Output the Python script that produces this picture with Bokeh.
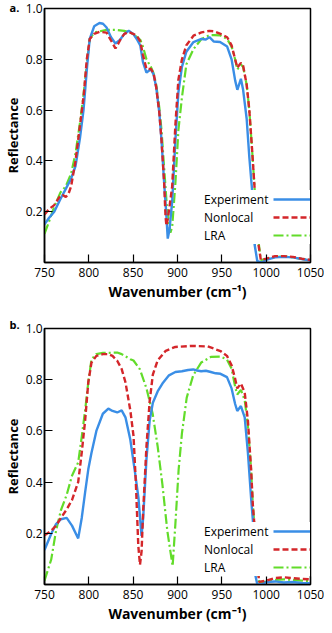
from bokeh.plotting import figure
from bokeh.layouts import column
from bokeh.models import Legend, LegendItem, FixedTicker, NumeralTickFormatter, Range1d
from bokeh.embed import file_html
from bokeh.resources import INLINE

# ---------------- data: panel a ----------------
a_exp_x = [750, 755, 761, 768, 774, 780, 785, 790, 794, 798, 801, 806, 812, 816, 820, 825, 830, 835,
           840, 845, 850, 854, 858, 861, 865, 870, 873, 876, 879.5, 882, 885, 887, 889, 891, 894,
           897.6, 901, 905, 910, 918, 927, 932, 936, 941, 948, 956, 961, 965, 967.5, 971.5, 974,
           978, 981, 984, 987, 990, 995, 1000, 1010, 1020, 1030, 1040, 1050]
a_exp_y = [0.15, 0.175, 0.20, 0.25, 0.29, 0.33, 0.38, 0.49, 0.60, 0.77, 0.88, 0.93, 0.943, 0.94, 0.925,
           0.887, 0.862, 0.876, 0.90, 0.912, 0.90, 0.88, 0.855, 0.79, 0.748, 0.761, 0.74, 0.69, 0.59,
           0.48, 0.31, 0.21, 0.094, 0.13, 0.24, 0.48, 0.67, 0.77, 0.83, 0.868, 0.88, 0.878, 0.887,
           0.87, 0.868, 0.85, 0.80, 0.717, 0.68, 0.723, 0.68, 0.566, 0.415, 0.29, 0.07, 0.005, 0.0,
           0.01, 0.02, 0.022, 0.02, 0.014, 0.008]

a_nl_x = [750, 755, 761, 768, 771, 774, 777, 780, 785, 790, 794, 797.7, 801, 806, 812, 820, 825, 830,
          833, 836, 840, 845, 850, 854, 858, 861, 865, 870, 873, 876, 879.5, 882, 885, 886.5, 887.5,
          889, 891, 894, 897.6, 901, 905, 910, 918, 927, 936, 941, 948.5, 956, 961, 965, 967.5,
          971.5, 974, 978, 981, 984, 987, 990, 994, 1000, 1010, 1020, 1030, 1040, 1050]
a_nl_y = [0.189, 0.21, 0.226, 0.264, 0.265, 0.258, 0.27, 0.30, 0.40, 0.54, 0.65, 0.80, 0.88, 0.90,
          0.908, 0.905, 0.874, 0.843, 0.86, 0.88, 0.90, 0.907, 0.90, 0.894, 0.87, 0.818, 0.762, 0.762,
          0.745, 0.69, 0.59, 0.48, 0.31, 0.18, 0.145, 0.17, 0.22, 0.30, 0.54, 0.72, 0.80, 0.855,
          0.893, 0.906, 0.912, 0.91, 0.90, 0.887, 0.855, 0.80, 0.767, 0.786, 0.775, 0.70, 0.60,
          0.45, 0.29, 0.10, 0.01, 0.015, 0.025, 0.025, 0.022, 0.015, 0.01]

a_lra_x = [750, 755, 761, 768, 774, 780, 785, 790, 794, 798, 801, 806, 812, 820, 830, 840, 845, 850,
           858, 861, 865, 870, 873, 876, 879.5, 882, 885, 888, 892, 894, 897.6, 901, 905, 910, 918,
           927, 936, 941, 948.5, 956, 961, 965, 967.5, 971.5, 974, 978, 981, 984, 987, 990, 994,
           1000, 1010, 1020, 1030, 1040, 1050]
a_lra_y = [0.113, 0.16, 0.22, 0.276, 0.30, 0.35, 0.43, 0.55, 0.66, 0.79, 0.88, 0.905, 0.91, 0.916,
           0.916, 0.912, 0.907, 0.90, 0.877, 0.85, 0.80, 0.77, 0.745, 0.70, 0.61, 0.52, 0.37, 0.22,
           0.117, 0.14, 0.31, 0.52, 0.65, 0.78, 0.84, 0.88, 0.895, 0.895, 0.894, 0.88, 0.85, 0.80,
           0.76, 0.78, 0.77, 0.70, 0.60, 0.45, 0.29, 0.12, 0.01, 0.012, 0.022, 0.024, 0.02, 0.014, 0.01]

# ---------------- data: panel b ----------------
b_exp_x = [750, 757.6, 763, 768.5, 775, 781, 788, 792, 795.8, 799.4, 803, 808.5, 815.8, 822, 826.7,
           832, 837, 841.3, 846.8, 852, 856, 859.4, 861.3, 865, 868.6, 872.2, 877.6, 883, 890.4,
           897.6, 905, 912, 917.7, 922, 926.7, 932, 937.6, 943, 948.5, 955.8, 961, 965, 967.4,
           971.5, 975.8, 979.4, 983, 985, 987, 990, 995, 1000, 1010, 1020, 1030, 1040, 1050]
b_exp_y = [0.135, 0.198, 0.236, 0.255, 0.26, 0.23, 0.18, 0.26, 0.36, 0.45, 0.515, 0.60, 0.667, 0.687,
           0.678, 0.672, 0.68, 0.653, 0.565, 0.44, 0.337, 0.19, 0.26, 0.49, 0.64, 0.71, 0.754, 0.785,
           0.817, 0.83, 0.833, 0.838, 0.84, 0.836, 0.833, 0.835, 0.83, 0.825, 0.823, 0.81, 0.766,
           0.705, 0.678, 0.697, 0.653, 0.515, 0.337, 0.25, 0.05, 0.0, 0.0, 0.01, 0.012, 0.008, 0.01,
           0.006, 0.005]

b_nl_x = [750, 757.6, 763, 768.5, 775, 781, 788, 792, 795.8, 799.4, 803, 808.5, 815.8, 822, 826.7,
          832, 837, 841.3, 846.8, 850.4, 853, 855.8, 857.7, 859.5, 861.3, 865, 868.6, 872.2, 877.6,
          886.7, 897.6, 915.8, 934, 948.5, 955.8, 961, 965, 967.4, 971.5, 975.8, 979.4, 983, 985,
          988.6, 992, 1000, 1010, 1020, 1030, 1040, 1050]
b_nl_y = [0.192, 0.21, 0.23, 0.26, 0.293, 0.33, 0.40, 0.515, 0.64, 0.79, 0.867, 0.893, 0.90, 0.90,
          0.893, 0.874, 0.842, 0.79, 0.68, 0.58, 0.40, 0.15, 0.077, 0.13, 0.29, 0.54, 0.716, 0.82,
          0.875, 0.913, 0.928, 0.932, 0.93, 0.912, 0.893, 0.856, 0.804, 0.766, 0.785, 0.75, 0.64,
          0.45, 0.31, 0.15, 0.01, 0.015, 0.025, 0.028, 0.025, 0.022, 0.02]

b_lra_x = [750, 757.6, 763, 768.5, 775, 781, 788, 792, 795.8, 799.4, 803, 808.5, 815.8, 822, 832,
           837, 846.8, 850.4, 857.7, 865, 872, 877.6, 883, 888.5, 894.5, 897.6, 901.3, 905, 910.4,
           917.7, 926.7, 937.6, 948.5, 955.8, 961, 965, 967.4, 971.5, 975.8, 979.4, 983, 985, 988.6,
           992, 1000, 1010, 1020, 1030, 1040, 1050]
b_lra_y = [0.015, 0.098, 0.21, 0.29, 0.35, 0.425, 0.477, 0.577, 0.68, 0.79, 0.88, 0.90, 0.905, 0.905,
           0.906, 0.90, 0.88, 0.875, 0.84, 0.766, 0.667, 0.54, 0.39, 0.21, 0.072, 0.236, 0.45, 0.59,
           0.73, 0.817, 0.867, 0.889, 0.89, 0.879, 0.843, 0.773, 0.742, 0.76, 0.72, 0.62, 0.45, 0.31,
           0.15, 0.01, 0.01, 0.018, 0.02, 0.018, 0.015, 0.012]

series_names = ["Experiment", "Nonlocal", "LRA"]
x_ticks = [750, 800, 850, 900, 950, 1000, 1050]
y_ticks = [0.2, 0.4, 0.6, 0.8, 1.0]
x_label = "Wavenumber (cm\u207b\u00b9)"
y_label = "Reflectance"

BLUE = "#3a8ee6"
RED = "#d4262a"
GREEN = "#62dc2a"
FONT = "Open Sans"

LEFT = 35
RIGHT = 14


def make_panel(tag, exp_x, exp_y, nl_x, nl_y, lra_x, lra_y, height, top, bottom, leg_y, tag_standoff):
    p = figure(width=324, height=height, output_backend="svg", toolbar_location=None,
               x_range=Range1d(750, 1050), y_range=Range1d(0, 1.0),
               min_border_left=LEFT, min_border_right=RIGHT, min_border_top=top,
               min_border_bottom=bottom, title=tag)
    p.title.align = "left"
    p.title.offset = -LEFT
    p.title.standoff = tag_standoff
    p.title.text_font = FONT
    p.title.text_font_size = "11px"
    p.title.text_font_style = "bold"
    p.title.text_color = "black"
    p.grid.visible = False
    p.outline_line_color = "black"
    p.outline_line_width = 1.5
    p.outline_line_alpha = 1.0

    r_lra = p.line(lra_x, lra_y, line_color=GREEN, line_width=2.2, line_dash="10 3 2 3")
    r_exp = p.line(exp_x, exp_y, line_color=BLUE, line_width=2.4)
    r_nl = p.line(nl_x, nl_y, line_color=RED, line_width=2.4, line_dash="6 3")

    for ax in (p.xaxis[0], p.yaxis[0]):
        ax.axis_line_color = "black"
        ax.axis_line_width = 1.5
        ax.major_tick_in = 8
        ax.major_tick_out = 0
        ax.minor_tick_in = 0
        ax.minor_tick_out = 0
        ax.major_tick_line_width = 1.2
        ax.minor_tick_line_color = None
        ax.major_label_text_font = FONT
        ax.major_label_text_font_size = "12px"
        ax.major_label_text_color = "black"
        ax.major_label_text_line_height = 1.0
        ax.axis_label_text_font = FONT
        ax.axis_label_text_font_style = "bold"
        ax.axis_label_text_color = "black"
        ax.axis_label_text_line_height = 1.0

    p.xaxis.ticker = FixedTicker(ticks=x_ticks)
    p.yaxis.ticker = FixedTicker(ticks=y_ticks)
    p.yaxis.formatter = NumeralTickFormatter(format="0.0")
    p.xaxis.axis_label = x_label
    p.yaxis.axis_label = y_label
    p.xaxis.axis_label_text_font_size = "14px"
    p.yaxis.axis_label_text_font_size = "13px"
    p.xaxis.major_label_standoff = 5
    p.yaxis.major_label_standoff = 2
    p.xaxis.axis_label_standoff = 2
    p.yaxis.axis_label_standoff = 1

    renderers = [r_exp, r_nl, r_lra]
    common = dict(padding=2, spacing=0, margin=0, label_height=18, glyph_height=18,
                  background_fill_color="white", background_fill_alpha=1.0,
                  border_line_color=None, label_text_font=FONT,
                  label_text_font_size="12px", label_text_color="black")
    leg_text = Legend(items=[LegendItem(label=n, renderers=[r]) for n, r in zip(series_names, renderers)],
                      location=(160, leg_y), glyph_width=0, label_standoff=0, **common)
    leg_glyph = Legend(items=[LegendItem(label=" ", renderers=[r]) for r in renderers],
                       location=(229, leg_y), glyph_width=38, label_standoff=0, label_width=0, **common)
    p.add_layout(leg_text, "center")
    p.add_layout(leg_glyph, "center")
    return p


pa = make_panel("a.", a_exp_x, a_exp_y, a_nl_x, a_nl_y, a_lra_x, a_lra_y,
                height=303, top=8, bottom=34, leg_y=18, tag_standoff=-12)
pb = make_panel("b.", b_exp_x, b_exp_y, b_nl_x, b_nl_y, b_lra_x, b_lra_y,
                height=322, top=25, bottom=34, leg_y=8, tag_standoff=-6)

layout = column(pa, pb, spacing=0)
open("out.html", "w").write(file_html(layout, INLINE))
